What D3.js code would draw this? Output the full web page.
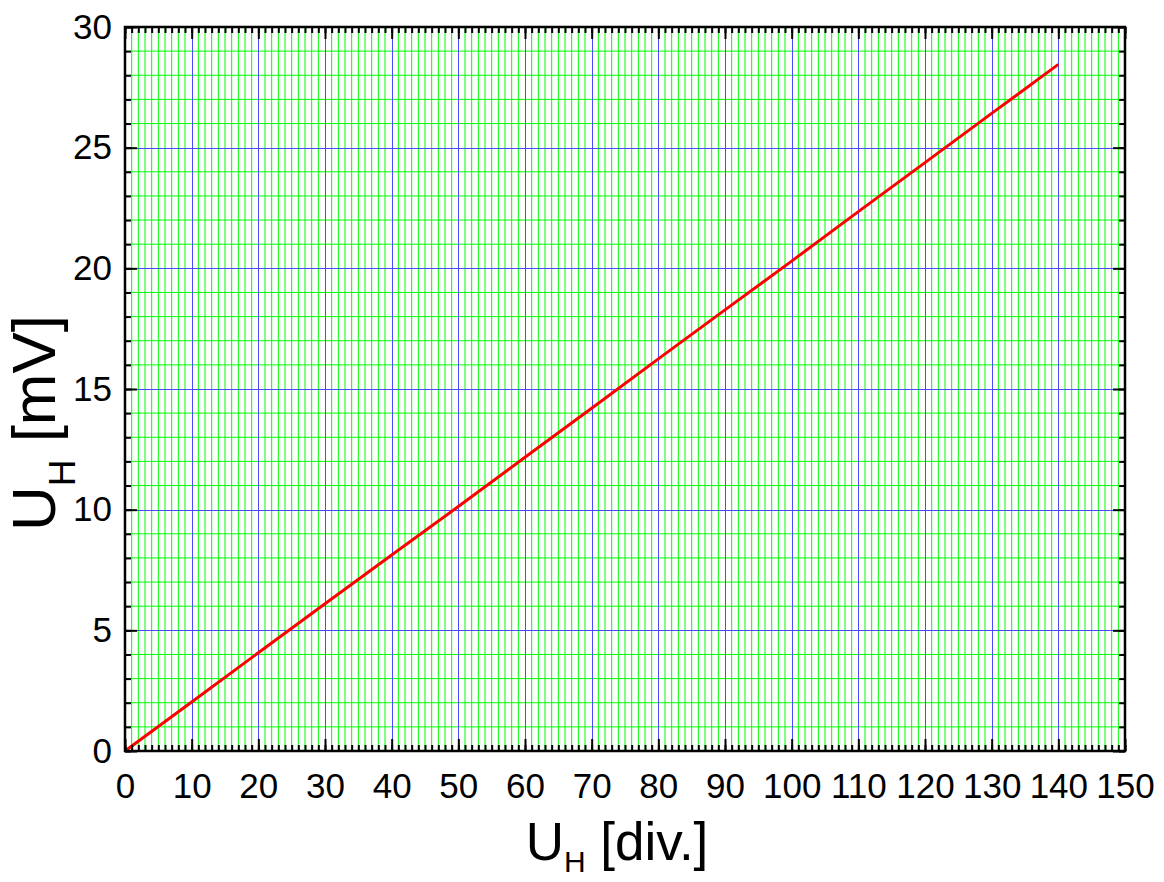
<!DOCTYPE html>
<html>
<head>
<meta charset="utf-8">
<script src="https://cdn.jsdelivr.net/npm/d3@7"></script>
<style>
  body { margin: 0; background: #fff; }
  svg { font-family: "Liberation Sans", Arial, sans-serif; }
</style>
</head>
<body>
<div class="chart"></div>
<script>
// measured points, U_H [div.] vs U_H [mV]
var divs = [0, 10, 20, 30, 40, 50, 60, 70, 80, 90, 100, 110, 120, 130, 140];
var millivolts = [0, 2.03, 4.07, 6.1, 8.12, 10.13, 12.17, 14.2, 16.25, 18.28, 20.3, 22.35, 24.38, 26.42, 28.45];

var xMajor = d3.range(0, 151, 10);
var xMinor = d3.range(0, 151, 1);
var yMajor = [0, 5, 10, 15, 20, 25, 30];
var yMinor = d3.range(0, 31, 1);

var dataset = divs.map(function (d, i) { return { div: d, mv: millivolts[i] }; });

const margin = { top: 27, bottom: 131, left: 125, right: 39 };
var svgWidth = 1164;
var svgHeight = 882;
var width = svgWidth - margin.left - margin.right;
var height = svgHeight - margin.top - margin.bottom;

var svg = d3.select('div.chart')
    .append('svg')
    .attr('width', svgWidth)
    .attr('height', svgHeight);

var chart = svg.append('g')
    .attr('transform', 'translate(' + margin.left + ',' + margin.top + ')');

var x = d3.scaleLinear().domain([0, 150]).range([0, width]);
var y = d3.scaleLinear().domain([0, 30]).range([height, 0]);

// minor grid (green)
chart.append('g')
    .selectAll('line.vminor')
    .data(xMinor.filter(function (d) { return d % 10 != 0; }))
    .enter().append('line')
    .attr('x1', function (d) { return x(d); })
    .attr('x2', function (d) { return x(d); })
    .attr('y1', 0).attr('y2', height)
    .style('stroke', '#00ff00').style('stroke-width', 1);

chart.append('g')
    .selectAll('line.hminor')
    .data(yMinor.filter(function (d) { return d % 5 != 0; }))
    .enter().append('line')
    .attr('y1', function (d) { return y(d); })
    .attr('y2', function (d) { return y(d); })
    .attr('x1', 0).attr('x2', width)
    .style('stroke', '#00ff00').style('stroke-width', 1);

// major grid (blue)
chart.append('g')
    .selectAll('line.vmajor')
    .data(xMajor)
    .enter().append('line')
    .attr('x1', function (d) { return Math.round(x(d)) + 0.5; })
    .attr('x2', function (d) { return Math.round(x(d)) + 0.5; })
    .attr('y1', 0).attr('y2', height)
    .style('stroke', '#4a4aff').style('stroke-width', 1);

chart.append('g')
    .selectAll('line.hmajor')
    .data(yMajor)
    .enter().append('line')
    .attr('y1', function (d) { return Math.round(y(d)) + 0.5; })
    .attr('y2', function (d) { return Math.round(y(d)) + 0.5; })
    .attr('x1', 0).attr('x2', width)
    .style('stroke', '#4a4aff').style('stroke-width', 1);

// data line
var line = d3.line()
    .x(function (d) { return x(d.div); })
    .y(function (d) { return y(d.mv); });

chart.append('path')
    .datum(dataset)
    .attr('d', line)
    .style('fill', 'none')
    .style('stroke', '#ff0000')
    .style('stroke-width', 3);

// axes with inward ticks
function styleAxis(g) {
    g.select('.domain').remove();
    g.selectAll('.tick line').style('stroke', '#000').style('stroke-width', 2);
    g.selectAll('.tick text')
        .style('font-size', '35px')
        .style('fill', '#000');
}

chart.append('g')
    .attr('transform', 'translate(0,' + height + ')')
    .call(d3.axisBottom(x).tickValues(xMinor).tickSize(-6).tickFormat(''))
    .call(styleAxis);
chart.append('g')
    .attr('transform', 'translate(0,' + height + ')')
    .call(d3.axisBottom(x).tickValues(xMajor).tickSize(-12).tickPadding(22).tickFormat(d3.format('d')))
    .call(styleAxis);

chart.append('g')
    .call(d3.axisTop(x).tickValues(xMinor).tickSize(-6).tickFormat(''))
    .call(styleAxis);
chart.append('g')
    .call(d3.axisTop(x).tickValues(xMajor).tickSize(-12).tickFormat(''))
    .call(styleAxis);

chart.append('g')
    .call(d3.axisLeft(y).tickValues(yMinor).tickSize(-6).tickFormat(''))
    .call(styleAxis);
chart.append('g')
    .call(d3.axisLeft(y).tickValues(yMajor).tickSize(-12).tickPadding(13).tickFormat(d3.format('d')))
    .call(styleAxis);

chart.append('g')
    .attr('transform', 'translate(' + width + ',0)')
    .call(d3.axisRight(y).tickValues(yMinor).tickSize(-6).tickFormat(''))
    .call(styleAxis);
chart.append('g')
    .attr('transform', 'translate(' + width + ',0)')
    .call(d3.axisRight(y).tickValues(yMajor).tickSize(-12).tickFormat(''))
    .call(styleAxis);

// frame
chart.append('rect')
    .attr('width', width)
    .attr('height', height)
    .style('fill', 'none')
    .style('stroke', '#000')
    .style('stroke-width', 2.5);

// axis titles
var xTitle = svg.append('text')
    .attr('x', 617)
    .attr('y', 860)
    .attr('text-anchor', 'middle')
    .style('font-size', '53px');
xTitle.append('tspan').text('U');
xTitle.append('tspan').attr('dy', 12).style('font-size', '30px').text('H');
xTitle.append('tspan').attr('dy', -12).text(' [div.]');

var yTitle = svg.append('text')
    .attr('transform', 'translate(55,423) rotate(-90)')
    .attr('text-anchor', 'middle')
    .style('font-size', '62px');
yTitle.append('tspan').text('U');
yTitle.append('tspan').attr('dy', 20).style('font-size', '37px').text('H');
yTitle.append('tspan').attr('dy', -20).text(' [mV]');
</script>
</body>
</html>
